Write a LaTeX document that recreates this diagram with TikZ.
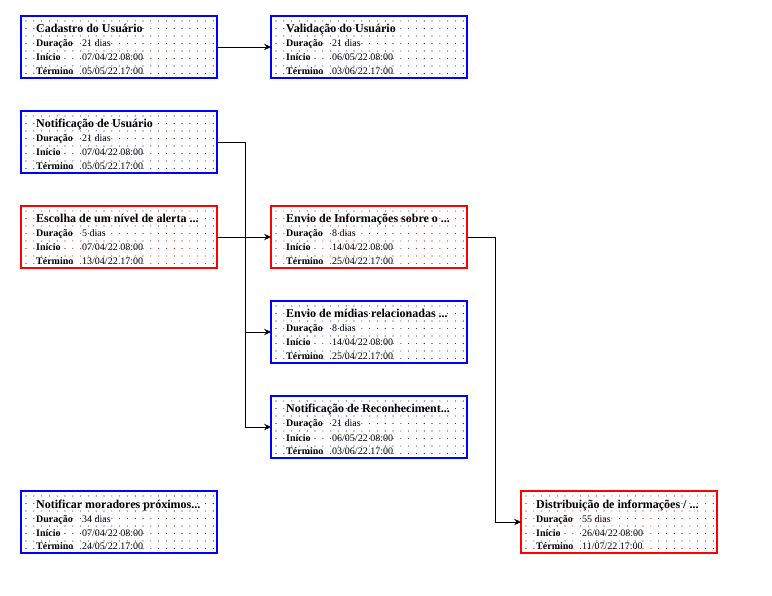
\documentclass[tikz,border=0pt]{standalone}
\usepackage{fontspec}
\setmainfont{Liberation Serif}
\usetikzlibrary{arrows.meta}

\definecolor{frameblue}{RGB}{0,0,255}
\definecolor{framered}{RGB}{255,0,0}
\definecolor{dotblue}{RGB}{0,0,150}
\definecolor{dotred}{RGB}{170,0,0}

\tikzset{
  taskframe/.style={draw, line width=2.5pt, inner sep=0pt, outer sep=0pt,
    minimum width=196pt, minimum height=62pt, anchor=north west},
  titletext/.style={inner sep=0pt, anchor=base west, font=\fontsize{12}{12}\selectfont\bfseries},
  labeltext/.style={inner sep=0pt, anchor=base west, font=\fontsize{10}{10}\selectfont\bfseries},
  valtext/.style={inner sep=0pt, anchor=base west, font=\fontsize{10}{10}\selectfont},
  conn/.style={draw=black, line width=0.9pt,
    -{Stealth[length=7pt,width=6.5pt,inset=2.5pt]}},
}

% #1 name, #2 x, #3 y, #4 frame colour, #5 dot colour,
% #6 title, #7 duration, #8 start, #9 finish
\newcommand\ganttbox[9]{%
  \foreach \i in {0,...,24}{
    \foreach \j in {0,...,7}{
      \fill[#5] ({#2+5+7.8*\i},{#3+5+7.5*\j}) circle (0.55pt);
    }
  }
  \node[taskframe, draw=#4] (#1) at (#2,#3) {};
  \node[titletext] (#1-title) at (#2+15,#3+17) {#6};
  \node[labeltext] (#1-dl) at (#2+15,#3+31) {Duração};
  \node[valtext]   (#1-dv) at (#2+61,#3+31) {#7};
  \node[labeltext] (#1-sl) at (#2+15,#3+45) {Início};
  \node[valtext]   (#1-sv) at (#2+61,#3+45) {#8};
  \node[labeltext] (#1-el) at (#2+15,#3+58.5) {Término};
  \node[valtext]   (#1-ev) at (#2+61,#3+58.5) {#9};
}

\begin{document}
\begin{tikzpicture}[x=1pt, y=-1pt]
  \useasboundingbox[fill=white] (0,0) rectangle (772,596);

  \ganttbox{cad}{21}{16}{frameblue}{dotblue}{Cadastro do Usuário}{21 dias}{07/04/22 08:00}{05/05/22 17:00}
  \ganttbox{valid}{271}{16}{frameblue}{dotblue}{Validação do Usuário}{21 dias}{06/05/22 08:00}{03/06/22 17:00}
  \ganttbox{notif}{21}{111}{frameblue}{dotblue}{Notificação de Usuário}{21 dias}{07/04/22 08:00}{05/05/22 17:00}
  \ganttbox{escolha}{21}{206}{framered}{dotred}{Escolha de um nível de alerta ...}{5 dias}{07/04/22 08:00}{13/04/22 17:00}
  \ganttbox{envinfo}{271}{206}{framered}{dotred}{Envio de Informações sobre o ...}{8 dias}{14/04/22 08:00}{25/04/22 17:00}
  \ganttbox{midias}{271}{301}{frameblue}{dotblue}{Envio de mídias relacionadas ...}{8 dias}{14/04/22 08:00}{25/04/22 17:00}
  \ganttbox{reconh}{271}{396}{frameblue}{dotblue}{Notificação de Reconheciment...}{21 dias}{06/05/22 08:00}{03/06/22 17:00}
  \ganttbox{morad}{21}{491}{frameblue}{dotblue}{Notificar moradores próximos...}{34 dias}{07/04/22 08:00}{24/05/22 17:00}
  \ganttbox{distrib}{521}{491}{framered}{dotred}{Distribuição de informações / ...}{55 dias}{26/04/22 08:00}{11/07/22 17:00}

  % dependencies
  \draw[conn] (cad.east) -- (valid.west);
  \draw[conn] (escolha.east) -- (envinfo.west);

  \path (notif.east) ++(28,0) coordinate (busA);
  \draw[conn] (notif.east) -- (busA) |- (reconh.west);
  \draw[conn] (busA |- midias.west) -- (midias.west);

  \path (envinfo.east) ++(28,0) coordinate (busB);
  \draw[conn] (envinfo.east) -- (busB) |- (distrib.west);
\end{tikzpicture}
\end{document}
